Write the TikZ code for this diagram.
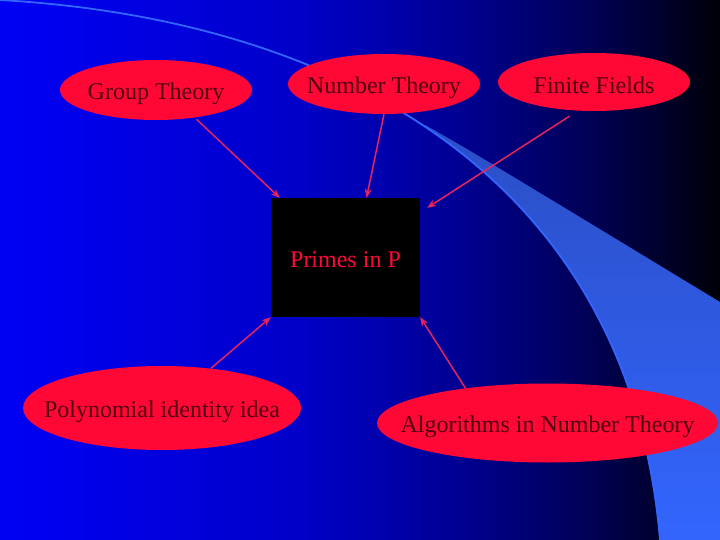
\documentclass[tikz,border=0pt]{standalone}
\usepackage{fontspec}
\setmainfont{Liberation Serif}
\usepackage{xcolor}
\definecolor{bgleft}{HTML}{0000F5}
\definecolor{bgmid}{HTML}{0000C8}
\definecolor{bgdeep}{HTML}{000096}
\definecolor{bgdark}{HTML}{000050}
\definecolor{bgblack}{HTML}{000008}
\definecolor{swoosh}{HTML}{3366FF}
\definecolor{swooshdim}{HTML}{2A4CC0}
\definecolor{bubblered}{HTML}{FF0836}
\definecolor{textmaroon}{HTML}{50000F}
\definecolor{arrowred}{HTML}{E8245A}
\usetikzlibrary{shapes,arrows.meta,positioning,calc}

\begin{document}
\begin{tikzpicture}[x=1pt, y=-1pt,
    bubble/.style={ellipse, fill=bubblered, draw=none, inner sep=0pt},
    txt/.style={text=textmaroon, font=\fontsize{24}{28}\selectfont, inner sep=0pt, yshift=-3.5pt},
    link/.style={draw=arrowred, line width=1.5pt, -{Stealth[length=9pt,width=7pt]}},
  ]
    \useasboundingbox (0,0) rectangle (720,540);
    % Background
    \shade[left color=bgleft, right color=bgmid] (0,0) rectangle (300.5,540);
    \shade[left color=bgmid, right color=bgdeep] (300,0) rectangle (450.5,540);
    \shade[left color=bgdeep, right color=bgdark] (450,0) rectangle (600.5,540);
    \shade[left color=bgdark, right color=bgblack] (600,0) rectangle (720,540);
    % Swoosh
    \begin{scope}
      \clip (0,0) .. controls (350,20) and (630,185) .. (660,540) -- (730,540) -- (730,-10) -- (0,-10) -- cycle;
      \clip (720,302) -- (560,205) .. controls (510,175) and (470,150) .. (425,125) -- (425,550) -- (730,550) -- (730,302) -- cycle;
      \shade[top color=swooshdim, middle color=swoosh, bottom color=swoosh] (380,90) rectangle (730,550);
    \end{scope}
    \draw[swoosh, line width=1.8pt] (0,0) .. controls (350,20) and (630,185) .. (660,540);

    \node[rectangle, fill=black, minimum width=149pt, minimum height=119pt,
      label={[txt, text=bubblered, yshift=1.5pt]center:Primes in P}] (box) at (345.5,257.5) {};

    \node[bubble, minimum width=192pt, minimum height=60pt, label={[txt]center:Group Theory}] (gt) at (156,90) {};
    \node[bubble, minimum width=192pt, minimum height=60pt, label={[txt]center:Number Theory}] (nt) at (384,84) {};
    \node[bubble, minimum width=192pt, minimum height=58pt, label={[txt]center:Finite Fields}] (ff) at (594,82) {};
    \node[bubble, minimum width=278pt, minimum height=84pt, label={[txt]center:Polynomial identity idea}] (pi) at (162,408) {};
    \node[bubble, minimum width=341pt, minimum height=79pt, label={[txt]center:Algorithms in Number Theory}] (an) at (547.5,423) {};

    % Arrows
    \draw[link] ([yshift=-2pt]gt.-34) -- ([xshift=9pt]box.north west);
    \draw[link] (nt.south) -- ([xshift=21pt]box.north);
    \draw[link] ([yshift=-6pt]ff.-131) -- ([xshift=7pt,yshift=-10pt]box.north east);
    \draw[link] (pi.39) -- (box.south west);
    \draw[link] (an.157) -- (box.south east);
  \end{tikzpicture}
\end{document}
